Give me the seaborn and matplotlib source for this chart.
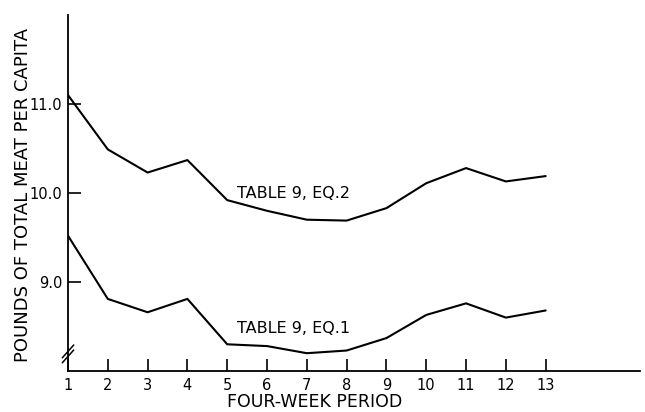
import matplotlib
matplotlib.use("Agg")
import matplotlib.pyplot as plt
import numpy as np
import pandas as pd
import seaborn as sns

# Four-week periods and per-capita total meat estimates (pounds)
periods = [1, 2, 3, 4, 5, 6, 7, 8, 9, 10, 11, 12, 13]
eq2_values = [11.10, 10.49, 10.23, 10.37, 9.92, 9.80, 9.70, 9.69, 9.83, 10.11, 10.28, 10.13, 10.19]
eq1_values = [9.52, 8.81, 8.66, 8.81, 8.30, 8.28, 8.20, 8.23, 8.37, 8.63, 8.76, 8.60, 8.68]
series_names = ["TABLE 9, EQ.2", "TABLE 9, EQ.1"]
y_ticks = [9.0, 10.0, 11.0]

df = pd.DataFrame({
    "period": periods * 2,
    "pounds": eq2_values + eq1_values,
    "series": [series_names[0]] * len(periods) + [series_names[1]] * len(periods),
})

sns.set_style("ticks")
plt.rcParams["font.family"] = ["DejaVu Sans"]
plt.rcParams["text.color"] = "black"

W, H = 645, 412
fig = plt.figure(figsize=(W / 100, H / 100), dpi=100)
ax = fig.add_axes([68 / W, 41 / H, (640 - 68) / W, (371 - 15) / H])

sns.lineplot(data=df, x="period", y="pounds", units="series", estimator=None,
             color="black", linewidth=1.5, ax=ax, legend=False)

ax.set_xlim(1, 15.37)
ax.set_ylim(8.0, 12.0)

ax.set_xticks(periods)
ax.set_xticklabels([str(p) for p in periods], fontsize=10.5)
ax.set_yticks(y_ticks)
ax.set_yticklabels([f"{v:.1f}" for v in y_ticks], fontsize=10.5)
ax.tick_params(axis="both", direction="in", length=9, width=1.2,
               colors="black", labelcolor="black", pad=4)
ax.tick_params(axis="x", pad=5)

for side in ("top", "right"):
    ax.spines[side].set_visible(False)
for side in ("left", "bottom"):
    ax.spines[side].set_linewidth(1.3)
    ax.spines[side].set_color("black")

ax.set_xlabel("")
ax.set_ylabel("")
fig.text(315 / W, 1 / H, "FOUR-WEEK PERIOD", fontsize=12.5, ha="center", va="bottom")
fig.text(23 / W, 1 - 195 / H, "POUNDS OF TOTAL MEAT PER CAPITA", fontsize=13,
         rotation=90, ha="center", va="center")

# Curve labels
ax.text(5.25, 10.0, series_names[0], fontsize=11.5, va="center", ha="left")
ax.text(5.25, 8.48, series_names[1], fontsize=11.5, va="center", ha="left")

# Axis-break marks on the value axis
trans = ax.transAxes
for dy in (0.041, 0.055):
    ax.plot([-0.01, 0.01], [dy - 0.018, dy + 0.018], transform=trans,
            color="black", linewidth=1.1, clip_on=False)

fig.savefig("out.png", dpi=100, facecolor="white")
